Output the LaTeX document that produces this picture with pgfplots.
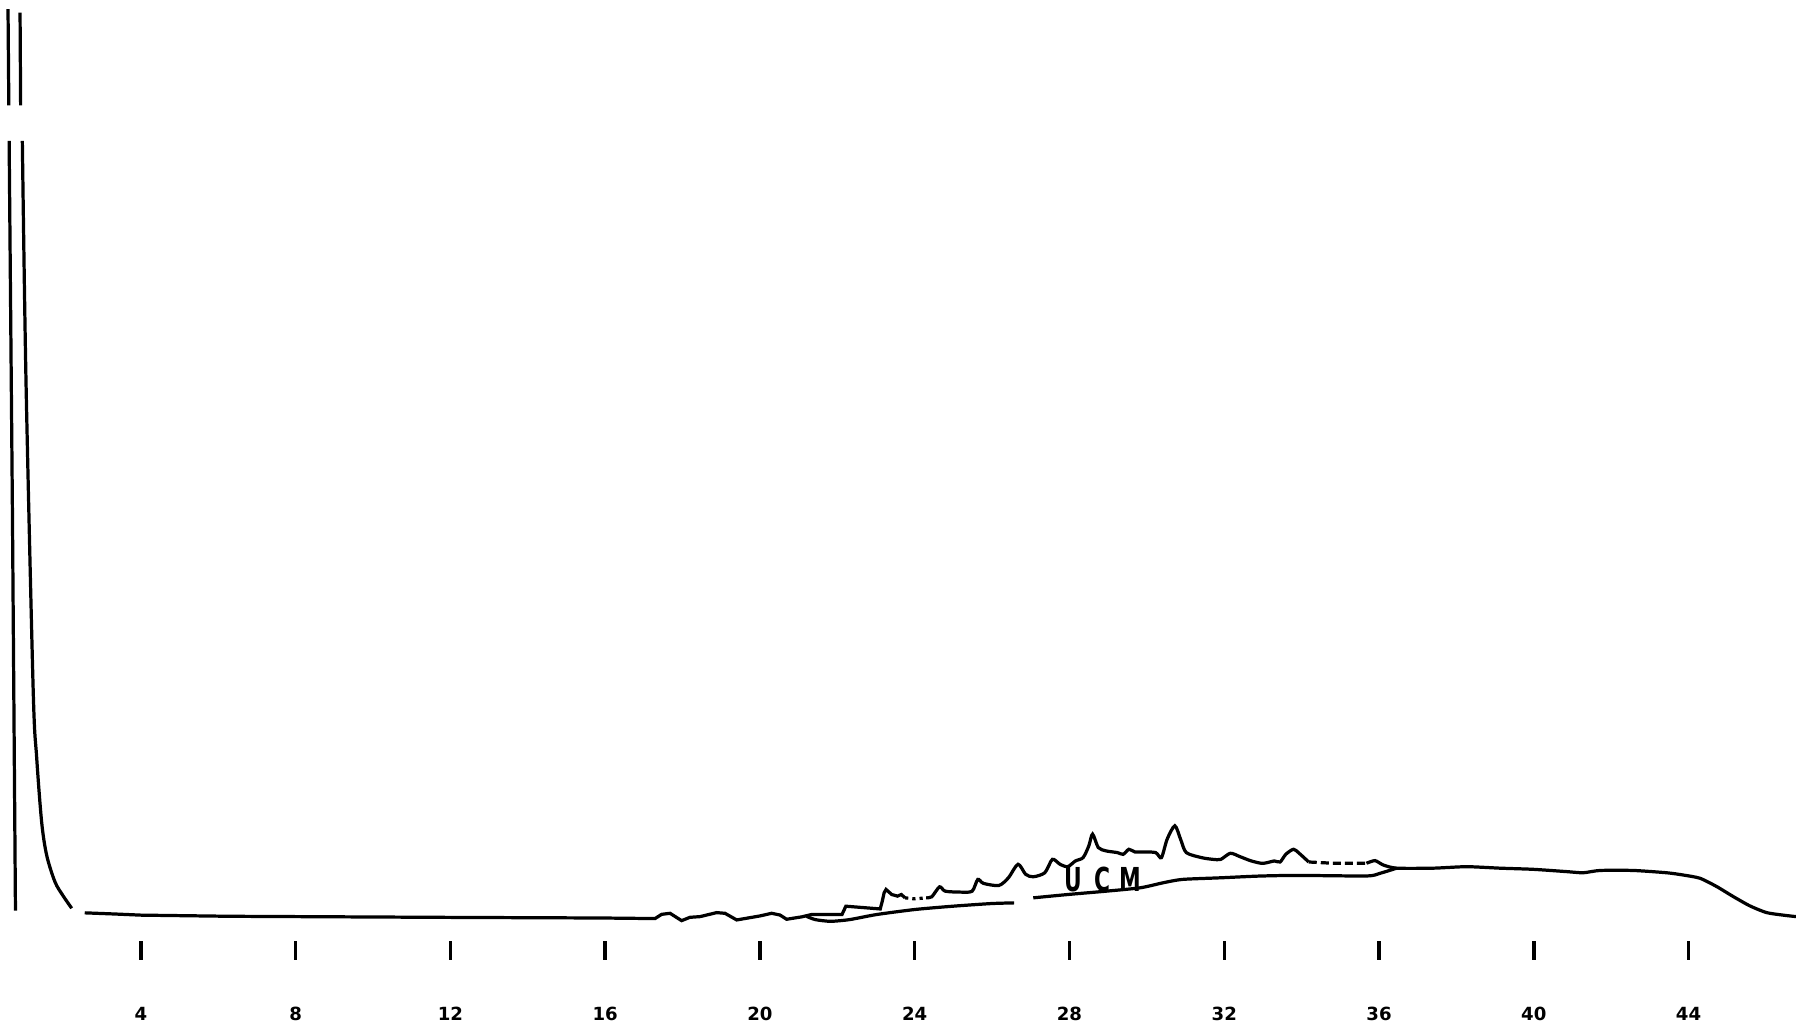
\documentclass[border=0pt]{standalone}
\usepackage{pgfplots}
\pgfplotsset{compat=1.18}
\usepackage{fontspec}
\newfontfamily\djv{DejaVu Sans}
\begin{document}
\begin{tikzpicture}
\begin{axis}[
  scale only axis, width=15.68cm, height=8.30cm,
  xmin=0.3588, xmax=46.777, ymin=67, ymax=897,
  axis x line=bottom, axis y line=none,
  x axis line style={draw=none},
  xtick={4,8,12,16,20,24,28,32,36,40,44},
  xticklabels={4,8,12,16,20,24,28,32,36,40,44},
  major tick length=0.16cm, tick align=center,
  tick style={black, line width=0.85pt},
  xticklabel style={font=\djv\bfseries\fontsize{4.5}{5}\selectfont, anchor=center, yshift=-0.47cm},
  cycle list={{black,solid}},
  every axis plot/.append style={black, line width=0.8pt, no marks},
]
% solvent peak: rising edge (with pen gap)
\addplot coordinates {(0.566,889) (0.587,805)};
\addplot coordinates {(0.595,774) (0.680,450) (0.7585,102)};
% solvent peak: falling edge (with pen gap)
\addplot coordinates {(0.877,886) (0.892,805)};
\addplot[smooth, tension=0.5] coordinates {(0.936,774) (1.031,564) (1.217,294) (1.306,236) (1.436,179) (1.567,150) (1.780,127) (1.987,115) (2.212,104)};
% baseline and early peaks, upper trace
\addplot coordinates {(2.549,100) (3.319,99) (4,98) (6.279,97) (9.24,96.5) (12.2,96) (15.9,95.5) (17.288,95)
 (17.460,98.7) (17.677,99.6) (17.975,93.2) (18.192,96.1) (18.452,96.7) (18.881,100.2) (19.097,99.6)
 (19.399,93.8) (20.0,97.3) (20.302,99.6) (20.518,98.1) (20.690,94.4) (21.08,96.5) (21.33,98.5)
 (22.120,98.5) (22.220,105.8) (23.109,103.4) (23.16,110) (23.209,117.5) (23.259,120.4) (23.407,116.0)
 (23.555,114.6) (23.653,116.0) (23.751,113.1)};
\addplot[black, line width=0.8pt, densely dotted] coordinates {(23.751,113.1) (24.0,112.2) (24.296,113.1)};
\addplot[smooth, tension=0.45] coordinates {(24.296,113.1) (24.44,114.0) (24.642,122.7) (24.790,118.9) (25.186,118.1) (25.483,118.9)
 (25.631,129.2) (25.779,125.7) (26.175,123.9) (26.421,130.6) (26.670,142.4) (26.868,133.6) (27.064,131.5)
 (27.362,135.0) (27.558,146.7) (27.756,142.4) (27.955,140.3) (28.153,145.3) (28.351,148.2) (28.499,158.4)
 (28.597,168.7) (28.745,157.0) (28.944,154.1) (29.240,152.6) (29.388,151.1) (29.536,155.5) (29.686,153.2)
 (29.932,153.2) (30.228,152.6) (30.376,148.2) (30.524,164.3) (30.723,176.0) (30.871,164.3) (31.019,152.6)
 (31.415,148.2) (31.711,146.7) (31.910,146.7) (32.158,152.0) (32.404,149.1) (32.700,145.3) (32.996,143.2)
 (33.295,145.3) (33.443,144.4) (33.591,151.1) (33.789,155.5) (33.937,152.0) (34.183,144.4)};
\addplot[black, line width=0.8pt, dash pattern=on 2pt off 1pt] coordinates {(34.183,144.4) (34.816,143.3) (35.675,143.3)};
\addplot[smooth, tension=0.4] coordinates {(35.675,143.3) (35.897,145.6) (36.11,141.8) (36.456,139) (37.403,139) (38.265,140.3)
 (39.127,139) (39.985,138) (40.849,136) (41.278,135) (41.714,137) (42.572,137) (43.434,135) (43.866,133)
 (44.295,130.2) (44.724,123) (45.156,114.2) (45.590,106) (46.018,100.2) (46.447,98) (46.776,96.7)};
% lower envelope of the unresolved complex mixture
\addplot[smooth, tension=0.4] coordinates {(21.2,97) (21.43,94.1) (21.824,92.6) (22.318,94.1) (23.011,98.5) (24.0,102.9)
 (24.988,105.8) (25.977,108.1) (26.569,108.7)};
\addplot[smooth, tension=0.4] coordinates {(27.064,113.1) (27.955,116.0) (28.944,118.9) (29.835,121.9) (30.427,126.3)
 (30.921,129.2) (31.910,130.6) (32.898,132.1) (33.887,132.7) (35.675,132.2) (36.024,134.5) (36.456,139)};
\node[anchor=center, inner sep=0pt] at (axis cs:28.867,129)
  {\scalebox{0.66}[1]{\djv\bfseries\fontsize{8.2}{9}\selectfont U\hspace{0.16cm}C\hspace{0.13cm}M}};
\coordinate (BL) at (rel axis cs:0,0);
\coordinate (TR) at (rel axis cs:1,1);
\end{axis}
\pgfresetboundingbox
\useasboundingbox (BL) ++(0,-0.67cm) rectangle (TR);
\end{tikzpicture}
\end{document}
